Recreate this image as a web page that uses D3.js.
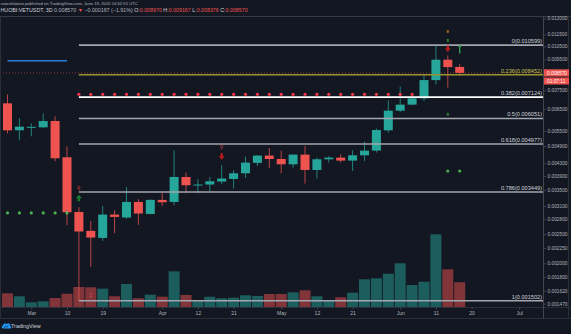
<!DOCTYPE html>
<html>
<head>
<meta charset="utf-8">
<script src="https://cdn.jsdelivr.net/npm/d3@7"></script>
<style>
  html, body { margin: 0; padding: 0; background: #131722; }
  svg { display: block; }
  text { font-family: "Liberation Sans", Arial, sans-serif; }
</style>
</head>
<body>
<svg id="chart" width="571" height="334"></svg>
<script>
// HUOBI:VETUSDT, 3-day candles
const barDates = [
  "2020-02-24","2020-02-27","2020-03-01","2020-03-04","2020-03-07","2020-03-10","2020-03-13",
  "2020-03-16","2020-03-19","2020-03-22","2020-03-25","2020-03-28","2020-03-31","2020-04-03",
  "2020-04-06","2020-04-09","2020-04-12","2020-04-15","2020-04-18","2020-04-21","2020-04-24",
  "2020-04-27","2020-04-30","2020-05-03","2020-05-06","2020-05-09","2020-05-12","2020-05-15",
  "2020-05-18","2020-05-21","2020-05-24","2020-05-27","2020-05-30","2020-06-02","2020-06-05",
  "2020-06-08","2020-06-11","2020-06-14","2020-06-17"
];
const openPrices = [0.006791,0.005530,0.005654,0.005654,0.005933,0.004497,0.002962,0.002563,0.002428,0.002903,
  0.002838,0.003197,0.002917,0.003247,0.003197,0.003869,0.003638,0.003652,0.003736,0.003811,
  0.003980,0.004310,0.004556,0.004439,0.004263,0.004590,0.004082,0.004429,0.004487,0.004385,
  0.004566,0.004733,0.005526,0.006423,0.006725,0.007055,0.008113,0.009481,0.008970];
const highPrices = [0.007274,0.006056,0.005829,0.006292,0.006149,0.004891,0.003070,0.002765,0.003100,0.003000,
  0.003577,0.003264,0.003264,0.003417,0.004744,0.004001,0.003802,0.003869,0.004231,0.004072,
  0.004521,0.004570,0.004828,0.004733,0.004600,0.004902,0.004487,0.004542,0.004601,0.004744,
  0.005069,0.005598,0.006948,0.007714,0.007219,0.008410,0.010599,0.009797,0.009167];
const lowPrices = [0.005401,0.005120,0.005279,0.005641,0.004362,0.002676,0.001502,0.001946,0.002373,0.002518,
  0.002816,0.002683,0.002910,0.003100,0.003117,0.003417,0.003417,0.003470,0.003668,0.003542,
  0.003840,0.004208,0.004135,0.003980,0.004157,0.003679,0.003823,0.004319,0.004319,0.004050,
  0.004372,0.004661,0.005430,0.006341,0.006689,0.006911,0.007851,0.007656,0.008376];
const closePrices = [0.005526,0.005684,0.005676,0.005933,0.004463,0.002955,0.002551,0.002436,0.002903,0.002851,
  0.003197,0.002926,0.003247,0.003190,0.003869,0.003632,0.003652,0.003744,0.003823,0.003980,
  0.004319,0.004556,0.004439,0.004263,0.004590,0.004082,0.004429,0.004487,0.004385,0.004566,
  0.004733,0.005539,0.006423,0.006725,0.007055,0.008113,0.009481,0.008960,0.008570];
// volume, millions of VET
const volumeM = [137,107,47,57,90,133,200,197,183,107,230,87,123,103,357,120,60,103,87,93,
  117,110,130,130,147,167,107,63,97,143,277,287,333,437,220,253,727,377,247];

// trailing-stop dots (null = no dot on that bar)
const stopBelow = [0.002939,0.002939,0.002939,0.002939,0.002939,0.002939,null,null,null,null,
  null,null,null,null,null,null,null,null,null,null,null,null,null,null,null,null,null,null,
  null,null,null,null,null,null,null,null,null,0.004050,0.004050];
const stopAbove = [null,null,null,null,null,null,0.007274,0.007274,0.007274,0.007274,0.007274,
  0.007274,0.007274,0.007274,0.007274,0.007274,0.007274,0.007274,0.007274,0.007274,0.007274,
  0.007274,0.007274,0.007274,0.007274,0.007274,0.007274,0.007274,0.007274,0.007274,0.007274,
  0.007274,0.007274,0.007274,0.007274,null,null,null,null];

// signal markers
const signalBar   = [6, 6, 18, 18, 37, 37, 37, 38, 37];
const signalPrice = [0.003550, 0.003289, 0.004854, 0.004531, 0.011766, 0.010985, 0.010335, 0.010256, 0.006244];
const signalKind  = ["pin", "up", "pin", "down", "dotOrange", "tick", "down", "upThin", "tick"];

// Fibonacci retracement from the March low to the June high
const fibRatios = [0, 0.236, 0.382, 0.5, 0.618, 0.786, 1];
const fibPrices = [0.010599, 0.008452, 0.007124, 0.006051, 0.004977, 0.003449, 0.001502];
const fibStart = "2020-03-13";

// horizontal level drawn at the top-left
const levelLine = { from: "2020-02-24", to: "2020-03-10", price: 0.009400 };

const priceTicks = [0.013, 0.0115, 0.0105, 0.0095, 0.0075, 0.0065, 0.0055, 0.0049, 0.0043, 0.0039,
  0.0035, 0.0031, 0.0028, 0.0025, 0.00225, 0.002, 0.0018, 0.00162, 0.00147];
const timeTickDates = ["2020-03-01","2020-03-10","2020-03-19","2020-04-03","2020-04-12","2020-04-21",
  "2020-05-03","2020-05-12","2020-05-21","2020-06-02","2020-06-11","2020-06-20","2020-07-02"];
const timeTickLabels = ["Mar","10","19","Apr","12","21","May","12","21","Jun","11","20","Jul"];

const lastPrice = 0.008570;
const countdown = "01:07:11";

// ---------- layout ----------
const W = 571, H = 334;
const plotL = 0, plotR = 543.5, plotT = 16.5, plotB = 307.5;
const UP = "#26a69a", DOWN = "#ef5350", BG = "#131722", LINE = "#2a2e39";
const TXT = "#b2b5be";

const parse = d3.utcParse("%Y-%m-%d");
const x = d3.scaleUtc()
  .domain([parse("2020-02-24"), parse("2020-07-02")])
  .range([7.5, 519.2]);
const y = d3.scaleLog()
  .domain([fibPrices[6], fibPrices[0]])
  .range([300.8, 45.1]);
const yVol = d3.scaleLinear().domain([0, 727]).range([307, 234.3]);

const bars = barDates.map((d, i) => ({
  t: parse(d), o: openPrices[i], h: highPrices[i], l: lowPrices[i], c: closePrices[i], v: volumeM[i]
}));

const svg = d3.select("#chart");
svg.append("rect").attr("width", W).attr("height", H).attr("fill", BG);

svg.append("defs").append("clipPath").attr("id", "plotClip")
  .append("rect").attr("x", plotL).attr("y", plotT).attr("width", plotR - plotL).attr("height", plotB - plotT);

const plot = svg.append("g").attr("clip-path", "url(#plotClip)");

// volume
plot.append("g").selectAll("rect").data(bars).join("rect")
  .attr("x", d => x(d.t) - 5.5)
  .attr("width", 11)
  .attr("y", d => yVol(d.v))
  .attr("height", d => yVol(0) - yVol(d.v))
  .attr("fill", d => d.c >= d.o ? UP : DOWN)
  .attr("fill-opacity", 0.5);

// volume-pane label from the indicator
plot.append("text").attr("x", x(bars[7].t)).attr("y", 297)
  .attr("text-anchor", "middle").attr("font-size", 5.5).attr("fill", DOWN).attr("fill-opacity", 0.8)
  .text("2");

// last-price dotted line
plot.append("line")
  .attr("x1", plotL).attr("x2", plotR)
  .attr("y1", y(lastPrice)).attr("y2", y(lastPrice))
  .attr("stroke", DOWN).attr("stroke-width", 1).attr("stroke-dasharray", "1,2").attr("opacity", 0.55);

// candles
const candles = plot.append("g").selectAll("g").data(bars).join("g");
candles.append("line")
  .attr("x1", d => x(d.t)).attr("x2", d => x(d.t))
  .attr("y1", d => y(d.h)).attr("y2", d => y(d.l))
  .attr("stroke", d => d.c >= d.o ? UP : DOWN).attr("stroke-width", 1).attr("stroke-opacity", 0.75);
candles.append("rect")
  .attr("x", d => x(d.t) - 4.5)
  .attr("width", 9)
  .attr("y", d => y(Math.max(d.o, d.c)))
  .attr("height", d => Math.max(1, Math.abs(y(d.o) - y(d.c))))
  .attr("fill", d => d.c >= d.o ? UP : DOWN);

// level line
plot.append("line")
  .attr("x1", x(parse(levelLine.from))).attr("x2", x(parse(levelLine.to)))
  .attr("y1", y(levelLine.price)).attr("y2", y(levelLine.price))
  .attr("stroke", "#2a7de1").attr("stroke-width", 1.6);

// Fibonacci levels
const fibColor = (r) => r === 0.236 ? "#9a9330" : (r === 0.382 ? "#ffffff" : "#a3a6ae");
const fibText = (r) => r === 0.236 ? "#c9c14a" : "#d1d4dc";
const fx0 = x(parse(fibStart));
const fib = plot.append("g").selectAll("g").data(fibRatios.map((r, i) => ({ r, p: fibPrices[i] }))).join("g");
fib.append("line")
  .attr("x1", fx0).attr("x2", plotR)
  .attr("y1", d => y(d.p)).attr("y2", d => y(d.p))
  .attr("stroke", d => fibColor(d.r)).attr("stroke-width", 1.6);
fib.append("text")
  .attr("x", plotR - 1.5).attr("y", d => y(d.p) - 2)
  .attr("text-anchor", "end").attr("font-size", 5.6)
  .attr("fill", d => fibText(d.r))
  .text(d => `${d.r}(${d.p.toFixed(6)})`);

// trailing-stop dots
const dotsG = plot.append("g");
dotsG.selectAll("circle.below").data(bars.map((b, i) => ({ t: b.t, p: stopBelow[i] })).filter(d => d.p !== null))
  .join("circle").attr("class", "below")
  .attr("cx", d => x(d.t)).attr("cy", d => y(d.p)).attr("r", 1.6).attr("fill", "#4caf50");
dotsG.selectAll("circle.above").data(bars.map((b, i) => ({ t: b.t, p: stopAbove[i] })).filter(d => d.p !== null))
  .join("circle").attr("class", "above")
  .attr("cx", d => x(d.t)).attr("cy", d => y(d.p)).attr("r", 1.6).attr("fill", "#f23645");

// signal markers
const sigG = plot.append("g");
signalBar.forEach((bi, k) => {
  const cx = x(bars[bi].t), cy = y(signalPrice[k]);
  const kind = signalKind[k];
  if (kind === "up") {
    sigG.append("path").attr("d", `M${cx},${cy - 3.5} L${cx + 3},${cy} L${cx + 1.2},${cy} L${cx + 1.2},${cy + 3} L${cx - 1.2},${cy + 3} L${cx - 1.2},${cy} L${cx - 3},${cy} Z`)
      .attr("fill", "#1b7d32");
  } else if (kind === "down") {
    sigG.append("path").attr("d", `M${cx},${cy + 3.5} L${cx + 3},${cy} L${cx + 1.2},${cy} L${cx + 1.2},${cy - 3} L${cx - 1.2},${cy - 3} L${cx - 1.2},${cy} L${cx - 3},${cy} Z`)
      .attr("fill", "#b71c1c");
  } else if (kind === "upThin") {
    sigG.append("path").attr("d", `M${cx},${cy - 5} L${cx + 1.8},${cy - 2.5} L${cx + 0.7},${cy - 2.5} L${cx + 0.7},${cy + 4} L${cx - 0.7},${cy + 4} L${cx - 0.7},${cy - 2.5} L${cx - 1.8},${cy - 2.5} Z`)
      .attr("fill", "#2e9e4f");
  } else if (kind === "pin") {
    sigG.append("circle").attr("cx", cx).attr("cy", cy - 0.8).attr("r", 1.2)
      .attr("fill", "none").attr("stroke", "#a8323a").attr("stroke-width", 0.9);
    sigG.append("line").attr("x1", cx).attr("x2", cx).attr("y1", cy + 0.4).attr("y2", cy + 2.4)
      .attr("stroke", "#a8323a").attr("stroke-width", 0.9);
  } else if (kind === "dotOrange") {
    sigG.append("rect").attr("x", cx - 1).attr("y", cy - 1.3).attr("width", 2).attr("height", 2.6).attr("fill", "#b06a1c");
  } else if (kind === "tick") {
    sigG.append("rect").attr("x", cx - 1).attr("y", cy - 1.5).attr("width", 2).attr("height", 3).attr("fill", "#2e7d32");
  }
});

// ---------- frame ----------
svg.append("line").attr("x1", 0).attr("x2", W).attr("y1", plotT).attr("y2", plotT).attr("stroke", "#363a45");
svg.append("line").attr("x1", 0).attr("x2", W).attr("y1", plotB).attr("y2", plotB).attr("stroke", LINE);
svg.append("line").attr("x1", 0).attr("x2", W).attr("y1", 318.5).attr("y2", 318.5).attr("stroke", LINE);
svg.append("line").attr("x1", 0.5).attr("x2", 0.5).attr("y1", plotT).attr("y2", 318.5).attr("stroke", LINE);
svg.append("line").attr("x1", plotR).attr("x2", plotR).attr("y1", plotT).attr("y2", 318.5).attr("stroke", "#434651");
svg.append("line").attr("x1", 568.5).attr("x2", 568.5).attr("y1", plotT).attr("y2", 318.5).attr("stroke", LINE);

// price axis
const yAxis = d3.axisRight(y).tickValues(priceTicks).tickFormat(d3.format(".6f")).tickSize(2.5).tickPadding(1.5);
const ya = svg.append("g").attr("transform", `translate(${plotR},0)`).call(yAxis);
ya.select(".domain").remove();
ya.selectAll(".tick line").attr("stroke", "#434651");
ya.selectAll(".tick text").attr("fill", TXT).attr("font-size", 4.8)
  .attr("font-family", "Liberation Sans, Arial, sans-serif");

// last price and countdown tags
const py = y(lastPrice);
svg.append("rect").attr("x", plotR + 0.5).attr("y", py - 3.6).attr("width", 25).attr("height", 7.2).attr("fill", DOWN);
svg.append("text").attr("x", plotR + 3.5).attr("y", py).attr("dy", "0.35em")
  .attr("font-size", 4.8).attr("fill", "#ffffff").text(lastPrice.toFixed(6));
svg.append("rect").attr("x", plotR + 0.5).attr("y", py + 4.6).attr("width", 25).attr("height", 7).attr("fill", DOWN);
svg.append("text").attr("x", plotR + 3.5).attr("y", py + 8.1).attr("dy", "0.35em")
  .attr("font-size", 4.8).attr("fill", "#ffffff").text(countdown);

// time axis
const xAxis = d3.axisBottom(x).tickValues(timeTickDates.map(parse))
  .tickFormat((d, i) => timeTickLabels[i]).tickSize(2).tickPadding(2);
const xa = svg.append("g").attr("transform", `translate(0,${plotB})`).call(xAxis);
xa.select(".domain").remove();
xa.selectAll(".tick line").attr("stroke", "#434651");
xa.selectAll(".tick text").attr("fill", TXT).attr("font-size", 5)
  .attr("font-family", "Liberation Sans, Arial, sans-serif");

// ---------- header ----------
svg.append("text").attr("x", 0.5).attr("y", 5.3).attr("font-size", 4.2).attr("fill", TXT)
  .text("satoshilatino published on TradingView.com, June 19, 2020 14:52:51 UTC");
const h2 = svg.append("text").attr("x", 0.5).attr("y", 12.4).attr("font-size", 5.3).attr("fill", "#d1d4dc");
h2.append("tspan").text("HUOBI:VETUSDT, 3D ");
h2.append("tspan").attr("fill", TXT).text("0.008570 ");
h2.append("tspan").attr("fill", DOWN).text("▼ ");
h2.append("tspan").attr("fill", TXT).text("−0.000167 (−1.91%) ");
[["O:", "0.008970"], ["H:", "0.009167"], ["L:", "0.008376"], ["C:", "0.008570"]].forEach(([k, v]) => {
  h2.append("tspan").attr("fill", "#d1d4dc").text(k);
  h2.append("tspan").attr("fill", DOWN).text(v + " ");
});

// ---------- footer logo ----------
const logo = svg.append("g").attr("transform", "translate(1.5,322.5)");
logo.append("path")
  .attr("d", "M1.5,6 A1.6,1.6 0 0 1 1.4,2.9 A2.3,2.3 0 0 1 5.3,1.6 A1.9,1.9 0 0 1 8.6,3.4 A1.3,1.3 0 0 1 8.4,6 Z")
  .attr("fill", "#2196f3");
logo.append("path").attr("d", "M2.4,5.2 L4,3.6 L5.2,4.6 L7,2.8").attr("fill", "none")
  .attr("stroke", "#131722").attr("stroke-width", 0.7);
svg.append("text").attr("x", 11).attr("y", 328.2).attr("font-size", 5.4).attr("fill", "#d1d4dc")
  .text("TradingView");
</script>
</body>
</html>
